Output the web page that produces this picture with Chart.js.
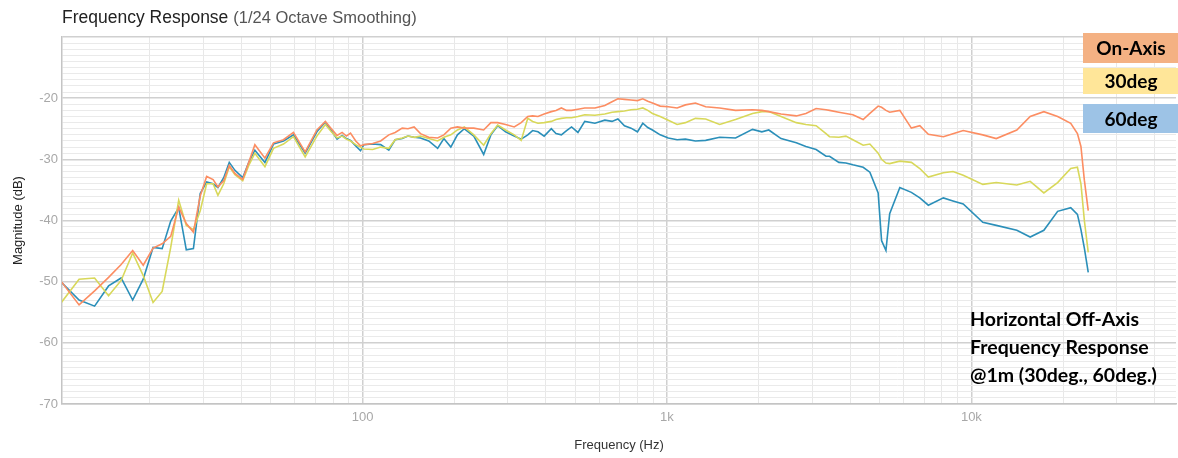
<!DOCTYPE html>
<html>
<head>
<meta charset="utf-8">
<title>Frequency Response</title>
<script src="https://cdn.jsdelivr.net/npm/chart.js@4/dist/chart.umd.min.js"></script>
<style>
    html, body { margin: 0; padding: 0; background: #fff; }
    #wrap { width: 1178px; height: 458px; position: relative; }
</style>
</head>
<body>
<div id="wrap"><canvas id="freqChart"></canvas></div>
<script>
// frequency points (Hz)
const freqs = [
    10.25, 11.72, 13.18, 14.65, 16.11, 17.58, 19.04, 20.51, 21.97, 23.44, 24.9, 26.37, 27.83, 29.3, 30.76,
    32.3, 33.5, 35, 36.5, 38.1, 40.4, 42.3, 44.3, 47.8, 51, 55, 59.3, 64.8, 70.8, 75.5, 79, 82.5, 85.7, 88.5, 91.3, 95, 98.5,
    101, 108, 114.7, 122, 128, 135, 141, 147.7, 155, 165, 176.5, 185, 195, 205, 216, 232, 250, 264, 278, 295,
    315, 332, 349, 362, 377, 395, 417, 432, 450, 468, 486, 510, 537, 580, 625, 660, 690, 725, 762, 800, 833, 865, 896, 950,
    1010, 1080, 1150, 1240, 1340, 1490, 1680, 1910, 2050, 2160, 2370, 2660, 2860, 3090, 3330, 3420, 3670, 3870, 4080, 4410,
    4640, 4940, 5070, 5240, 5390, 5820, 6350, 6770, 7220, 8090, 8700, 9400, 10900, 12070, 14100, 15600, 17300, 19200, 21200, 22300,
    22900, 23500, 24200
];

// magnitudes (dB)
const onAxis = [
    -50.0, -53.8, -51.5, -49.3, -47.2, -44.9, -47.3, -44.5, -43.8, -42.6, -37.8, -40.5, -41.9, -36.0, -32.8,
    -33.3, -34.5, -33.5, -31.0, -32.3, -33.3, -30.5, -27.6, -29.8, -27.3, -26.8, -25.6, -28.8, -25.2, -23.8, -25.0, -26.1, -25.6, -26.2, -25.7, -27.0, -27.8,
    -27.6, -27.4, -27.0, -26.0, -25.6, -24.9, -25.0, -24.7, -25.8, -26.4, -26.5, -26.0, -24.9, -24.7, -24.9, -24.9, -25.2, -24.0, -24.0, -24.3,
    -24.7, -24.0, -23.0, -22.9, -23.0, -22.6, -22.2, -22.0, -21.6, -22.0, -22.0, -21.8, -21.6, -21.6, -21.2, -20.6, -20.1, -20.2, -20.3, -20.4, -20.1, -20.5, -20.8, -21.3,
    -21.4, -21.6, -21.1, -20.8, -21.4, -21.6, -22.0, -21.9, -22.0, -22.2, -22.6, -22.9, -22.5, -21.7, -21.9, -22.0, -22.3, -22.5, -22.7, -23.5,
    -22.5, -21.3, -21.5, -22.0, -22.3, -22.0, -24.9, -24.5, -25.9, -26.3, -25.8, -25.3, -26.0, -26.6, -25.2, -23.0, -22.2, -23.0, -24.1, -25.8,
    -27.9, -33.4, -38.4
];
const deg30 = [
    -53.4, -49.6, -49.4, -52.3, -49.8, -45.3, -49.0, -53.4, -51.6, -44.4, -36.7, -40.8, -41.5, -38.4, -34.0,
    -34.0, -35.9, -34.0, -31.2, -32.5, -33.5, -31.0, -29.0, -31.2, -28.2, -27.5, -26.3, -29.6, -26.2, -24.3, -25.5, -26.5, -26.2, -26.7, -27.0, -27.6, -28.0,
    -28.3, -28.4, -28.0, -28.2, -26.8, -26.5, -26.2, -26.4, -26.2, -26.6, -27.0, -26.4, -26.0, -25.2, -24.7, -26.0, -27.7, -25.8, -24.4, -25.2,
    -26.0, -26.9, -23.3, -23.8, -24.1, -24.0, -23.8, -23.5, -23.3, -23.2, -23.2, -23.0, -22.7, -22.8, -22.6, -22.3, -22.2, -22.1, -21.9, -21.8, -21.6, -22.0, -22.5, -23.0,
    -23.6, -24.3, -24.0, -23.3, -23.4, -24.3, -23.5, -22.5, -22.2, -22.2, -23.0, -24.0, -24.3, -24.5, -25.8, -26.3, -26.4, -26.2, -26.8, -27.7,
    -27.5, -29.0, -30.0, -30.6, -30.7, -30.3, -30.5, -31.5, -32.9, -32.2, -32.0, -32.6, -34.1, -33.8, -34.2, -33.6, -35.5, -33.8, -31.5, -31.3,
    -34.0, -40.0, -45.2
];
const deg60 = [
    -50.1, -53.0, -54.0, -50.7, -49.4, -53.0, -49.6, -44.4, -44.6, -40.1, -37.9, -44.8, -44.6, -35.6, -33.7,
    -34.0, -34.6, -33.0, -30.5, -31.8, -33.0, -30.5, -28.5, -30.5, -27.5, -27.0, -26.0, -29.0, -25.5, -23.9, -25.3, -26.7, -26.1, -26.6, -26.9, -27.8, -28.6,
    -27.6, -27.5, -27.6, -28.5, -26.8, -26.6, -26.2, -26.4, -26.5, -27.0, -28.2, -26.6, -28.0, -26.0, -25.0, -26.2, -29.2, -26.0, -24.5, -25.5,
    -26.2, -26.7, -26.0, -25.3, -25.5, -26.2, -25.0, -25.8, -26.0, -25.3, -24.7, -25.6, -23.8, -24.1, -23.6, -23.8, -23.4, -24.5, -24.9, -25.5, -24.1, -24.8, -25.2, -26.0,
    -26.5, -26.8, -26.7, -27.0, -26.9, -26.4, -26.5, -25.1, -25.5, -25.2, -26.6, -27.3, -27.9, -28.4, -29.5, -29.5, -30.5, -30.6, -30.9, -31.3,
    -32.1, -35.5, -43.3, -44.9, -38.9, -34.6, -35.4, -36.3, -37.5, -36.3, -36.8, -37.3, -40.3, -40.8, -41.6, -42.7, -41.6, -38.5, -37.9, -39.0,
    -41.5, -44.5, -48.5
];

// axis ticks
const xDecades = [100, 1000, 10000];
const xDecadeLabels = ['100', '1k', '10k'];
const yLabels = [-70, -60, -50, -40, -30, -20];

const seriesNames = ['On-Axis', '30deg', '60deg'];
const seriesColors = ['#fc8d62', '#d8d85a', '#2b8fb9'];
const boxColors = ['#f4b183', '#ffe699', '#9dc3e6'];
const noteLines = ['Horizontal Off-Axis', 'Frequency Response', '@1m (30deg., 60deg.)'];

function toPoints(values) {
    return freqs.map((f, i) => ({ x: f, y: values[i] }));
}

// minor grid: 20..90, 200..900, ... up to 40k
const xGrid = [];
for (let d = 10; d <= 10000; d *= 10) {
    for (let m = 2; m <= 10; m++) {
        if (d * m <= 40000) xGrid.push(d * m);
    }
}
const yGrid = [];
for (let v = -70; v <= -10; v++) yGrid.push(v);

const overlayPlugin = {
    id: 'overlay',
    afterDraw(chart) {
        const ctx = chart.ctx;
        ctx.save();
        // title
        ctx.textBaseline = 'middle';
        ctx.textAlign = 'left';
        ctx.font = '17.5px "Liberation Sans", Arial, sans-serif';
        ctx.fillStyle = '#222';
        const t1 = 'Frequency Response ';
        ctx.fillText(t1, 62, 18);
        const w1 = ctx.measureText(t1).width;
        ctx.font = '16.5px "Liberation Sans", Arial, sans-serif';
        ctx.fillStyle = '#555';
        ctx.fillText('(1/24 Octave Smoothing)', 62 + w1, 18);

        // legend boxes
        const boxes = [[33, 30], [68, 26], [104, 29]];
        ctx.font = 'bold 19px Lato, sans-serif';
        ctx.textAlign = 'center';
        seriesNames.forEach((name, i) => {
            ctx.fillStyle = boxColors[i];
            ctx.fillRect(1083, boxes[i][0], 95, boxes[i][1]);
            ctx.fillStyle = '#000';
            ctx.fillText(name, 1131, boxes[i][0] + boxes[i][1] / 2 + 1);
        });

        // note
        ctx.textAlign = 'left';
        ctx.font = 'bold 19.5px Lato, sans-serif';
        noteLines.forEach((line, i) => {
            ctx.fillText(line, 970, 320 + i * 28);
        });
        ctx.restore();
    }
};

const ctx = document.getElementById('freqChart').getContext('2d');
new Chart(ctx, {
    type: 'line',
    data: {
        datasets: [onAxis, deg30, deg60].map((vals, i) => ({
            label: seriesNames[i],
            data: toPoints(vals),
            borderColor: seriesColors[i],
            borderWidth: 1.6,
            pointRadius: 0,
            tension: 0,
            fill: false
        }))
    },
    options: {
        responsive: true,
        maintainAspectRatio: false,
        animation: false,
        devicePixelRatio: 1,
        layout: { padding: { top: 37, right: 2, left: 0, bottom: 0 } },
        plugins: {
            legend: { display: false },
            tooltip: { enabled: false }
        },
        scales: {
            x: {
                type: 'logarithmic',
                min: 10.3,
                max: 47000,
                afterBuildTicks: scale => {
                    scale.ticks = xGrid.map(v => ({ value: v }));
                },
                afterFit: scale => { scale.height = 54; },
                ticks: {
                    autoSkip: false,
                    maxRotation: 0,
                    padding: 6,
                    color: '#a8a8a8',
                    font: { size: 13, family: '"Liberation Sans", Arial, sans-serif' },
                    callback: value => {
                        const i = xDecades.indexOf(value);
                        return i >= 0 ? xDecadeLabels[i] : '';
                    }
                },
                grid: {
                    drawTicks: false,
                    color: c => xDecades.includes(c.tick && c.tick.value) ? '#d0d0d0' : '#e8e8e8',
                    lineWidth: c => xDecades.includes(c.tick && c.tick.value) ? 1.5 : 1
                },
                border: { display: true, color: '#c4c4c4', width: 1.5 },
                title: {
                    display: true,
                    text: 'Frequency (Hz)',
                    color: '#333',
                    padding: 5,
                    font: { size: 13, family: '"Liberation Sans", Arial, sans-serif' }
                }
            },
            y: {
                type: 'linear',
                min: -70,
                max: -10,
                afterBuildTicks: scale => {
                    scale.ticks = yGrid.map(v => ({ value: v }));
                },
                afterFit: scale => { scale.width = 62; },
                ticks: {
                    autoSkip: false,
                    padding: 4,
                    color: '#a8a8a8',
                    font: { size: 13, family: '"Liberation Sans", Arial, sans-serif' },
                    callback: value => yLabels.includes(value) ? String(value) : ''
                },
                grid: {
                    drawTicks: false,
                    color: c => (c.tick && c.tick.value % 10 === 0) ? '#d0d0d0' : '#eaeaea',
                    lineWidth: c => (c.tick && c.tick.value % 10 === 0) ? 1.5 : 1
                },
                border: { display: true, color: '#c4c4c4', width: 1.5 },
                title: {
                    display: true,
                    text: 'Magnitude (dB)',
                    color: '#222',
                    padding: 11,
                    font: { size: 13, family: '"Liberation Sans", Arial, sans-serif' }
                }
            }
        }
    },
    plugins: [overlayPlugin]
});
</script>
</body>
</html>
